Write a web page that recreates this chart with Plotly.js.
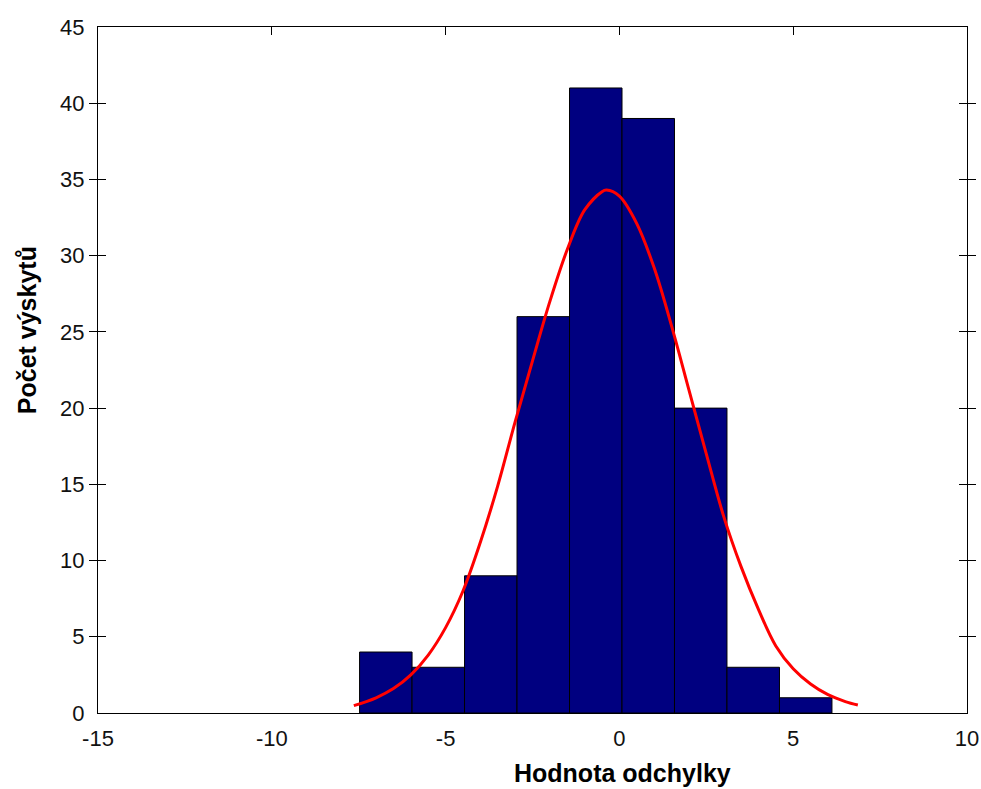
<!DOCTYPE html>
<html>
<head>
<meta charset="utf-8">
<script src="https://cdn.plot.ly/plotly-3.0.1.min.js"></script>
<style>html,body{margin:0;padding:0;background:#fff;}#chart{width:981px;height:789px;}</style>
</head>
<body>
<div id="chart"></div>
<script>
// Histogram bins (centres) and counts
const binCenters = [-6.72, -5.21, -3.70, -2.19, -0.68, 0.83, 2.34, 3.85, 5.36];
const counts     = [4, 3, 9, 26, 41, 39, 20, 3, 1];

// Fitted normal curve
const curveX = [-7.64, -7.0, -6.5, -6.0, -5.5, -5.0, -4.5, -4.0, -3.5, -3.0, -2.5, -2.0, -1.5, -1.0, -0.5, -0.37, 0.0, 0.5, 1.0, 1.5, 2.0, 2.5, 3.0, 3.5, 4.0, 4.5, 5.0, 5.5, 6.0, 6.5, 6.86];
const curveY = [0.48, 1.0, 1.6, 2.5, 3.8, 5.6, 8.0, 11.2, 14.9, 19.1, 23.1, 27.0, 30.4, 33.0, 34.2, 34.3, 33.9, 32.1, 29.2, 25.4, 21.2, 17.0, 12.9, 9.6, 6.8, 4.4, 2.9, 1.9, 1.2, 0.75, 0.52];

// Axis ticks
const xTicks = [-15, -10, -5, 0, 5, 10];
const yTicks = [0, 5, 10, 15, 20, 25, 30, 35, 40, 45];

const xTitle = 'Hodnota odchylky';
const yTitle = 'Počet výskytů';

const tickFont = {family: 'Liberation Sans, Arial, sans-serif', size: 22, color: '#111'};
const titleFont = {family: 'Liberation Sans, Arial, sans-serif', size: 25, color: '#000', weight: 'bold'};

const traces = [
  {
    type: 'bar', x: binCenters, y: counts,
    marker: {color: '#000080', line: {color: '#000', width: 1}},
    hoverinfo: 'x+y', showlegend: false
  },
  {
    type: 'scatter', mode: 'lines', x: curveX, y: curveY,
    line: {color: '#ff0000', width: 3, shape: 'spline', smoothing: 1},
    showlegend: false
  },
  {
    type: 'scatter', mode: 'lines', x: [], y: [], xaxis: 'x2', showlegend: false, hoverinfo: 'skip'
  }
];

const layout = {
  width: 981, height: 789,
  paper_bgcolor: '#fff', plot_bgcolor: '#fff',
  margin: {l: 98, r: 14, t: 27, b: 76},
  bargap: 0,
  showlegend: false,
  xaxis: {
    range: [-15, 10], tickvals: xTicks, ticktext: xTicks.map(String),
    ticks: '', showgrid: false, zeroline: false,
    showline: true, linecolor: '#000', linewidth: 1,
    tickfont: tickFont, ticklabelstandoff: 6
  },
  xaxis2: {
    overlaying: 'x', matches: 'x', side: 'top', range: [-15, 10],
    tickvals: xTicks, ticks: 'inside', ticklen: 8, tickcolor: '#000', tickwidth: 1,
    showticklabels: false, showgrid: false, zeroline: false,
    showline: true, linecolor: '#000', linewidth: 1
  },
  yaxis: {
    range: [0, 45], tickvals: yTicks, ticktext: yTicks.map(String),
    ticks: 'inside', ticklen: 8, tickcolor: '#000', tickwidth: 1,
    mirror: 'allticks', showgrid: false, zeroline: false,
    showline: true, linecolor: '#000', linewidth: 1,
    tickfont: tickFont, ticklabelstandoff: 8
  },
  annotations: [
    {text: xTitle, xref: 'paper', yref: 'paper', x: 0.603, y: -0.0875,
     xanchor: 'center', yanchor: 'middle', showarrow: false, font: titleFont},
    {text: yTitle, xref: 'paper', yref: 'paper', x: -0.0817, y: 0.558,
     xanchor: 'center', yanchor: 'middle', textangle: -90, showarrow: false, font: titleFont}
  ]
};

Plotly.newPlot('chart', traces, layout, {displayModeBar: false, staticPlot: true});
</script>
</body>
</html>
